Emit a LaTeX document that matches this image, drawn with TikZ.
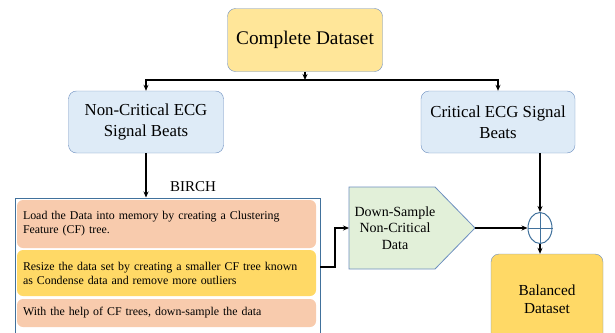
\documentclass[tikz,border=0pt]{standalone}
\usepackage{fontspec}
\setmainfont{Liberation Serif}
\usetikzlibrary{arrows.meta,shapes.geometric}
\definecolor{edgeblue}{HTML}{6C8EBF}
\definecolor{boxblue}{HTML}{41719C}
\definecolor{lightgold}{HTML}{FFE699}
\definecolor{gold}{HTML}{FFD966}
\definecolor{paleblue}{HTML}{DEEBF7}
\definecolor{salmon}{HTML}{F8CBAD}
\definecolor{palegreen}{HTML}{E2F0D9}
\tikzset{
  block/.style={draw=edgeblue, rounded corners=8pt, align=center, inner sep=2pt},
  stepbox/.style={rounded corners=6pt, minimum width=299, text width=287, align=left, inner sep=6pt, font=\fontsize{11.9}{14}\selectfont},
  link/.style={black, line width=1.3pt, -{Stealth[length=6pt,width=5pt]}},
}
\begin{document}
\begin{tikzpicture}[x=1pt,y=-1pt]
  \useasboundingbox (0,0) rectangle (615,332);
  \clip (0,0) rectangle (615,332);

  % top of the tree
  \node[block, fill=lightgold, minimum width=155, minimum height=63, font=\fontsize{19.3}{22}\selectfont] (complete) at (305,40) {Complete Dataset};
  \coordinate (split) at (305,80);
  \node[block, fill=paleblue, minimum width=155, minimum height=62, font=\fontsize{16.8}{21}\selectfont] (noncrit) at (146,122) {Non-Critical ECG\\Signal Beats};
  \node[block, fill=paleblue, minimum width=154, minimum height=62, font=\fontsize{16.8}{21}\selectfont] (crit) at (498,122) {Critical ECG Signal\\Beats};

  % BIRCH steps
  \node[draw=boxblue, line width=1pt, minimum width=305, minimum height=150, inner sep=0pt] (birch) at (167.5,273) {};
  \node[font=\fontsize{15}{18}\selectfont] (birchlbl) at (193,187) {BIRCH};
  \node[stepbox, fill=salmon, minimum height=48] (load) at (166.5,224) {Load the Data into memory by creating a Clustering\\Feature (CF) tree.};
  \node[stepbox, fill=gold, minimum height=46] (resize) at (166.5,273) {Resize the data set by creating a smaller CF tree known\\as Condense data and remove more outliers};
  \node[stepbox, fill=salmon, minimum height=28] (help) at (166.5,313) {With the help of CF trees, down-sample the data};

  % down-sampling
  \draw[draw=edgeblue, fill=palegreen, line width=0.8pt] (349,187) -- (435,187) -- (475,228) -- (435,269) -- (349,269) -- cycle;
  \coordinate (dsW) at (349,228);
  \coordinate (dsE) at (475,228);
  \node[align=center, font=\fontsize{14}{16.7}\selectfont] (ds) at (395,228) {Down-Sample\\Non-Critical\\Data};

  % merge and result
  \node[ellipse, draw=boxblue, line width=1pt, minimum width=24, minimum height=31, inner sep=0pt] (sum) at (540,228) {};
  \draw[boxblue, line width=1pt] (sum.north) -- (sum.south) (sum.west) -- (sum.east);
  \node[block, fill=gold, minimum width=112, minimum height=91, font=\fontsize{15.3}{18}\selectfont] (balanced) at (547,299.5) {Balanced\\Dataset};

  % connectors
  \draw[link] (complete) -- (split);
  \draw[link] (split) -| (noncrit.north);
  \draw[link] (split) -| (crit.north);
  \draw[link] (noncrit.south) -- (noncrit.south |- birch.north);
  \coordinate (birchout) at (320,267);
  \draw[link] (birchout) -- ++(15,0) |- (dsW);
  \draw[link] (dsE) -- (sum.west);
  \draw[link] (crit.south -| sum.north) -- (sum.north);
  \draw[link] (sum.south) -- (sum.south |- balanced.north);
\end{tikzpicture}
\end{document}
